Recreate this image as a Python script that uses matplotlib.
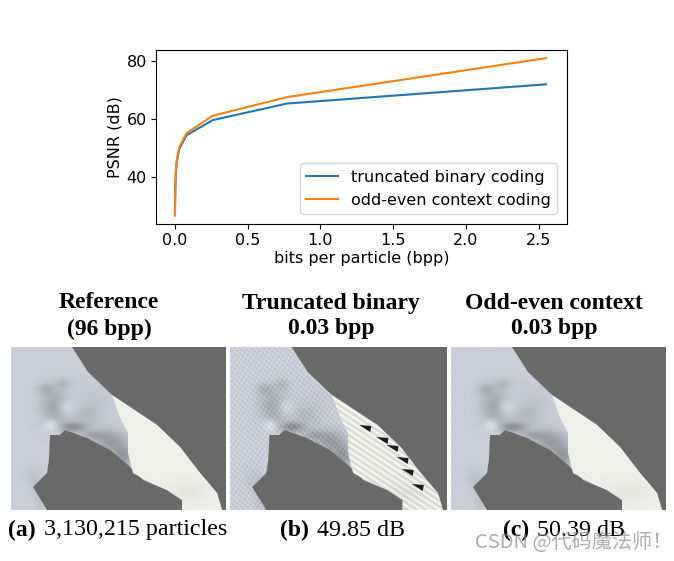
import matplotlib
matplotlib.use('Agg')
import matplotlib.pyplot as plt
import numpy as np
from matplotlib.patches import Polygon

plt.rcParams['font.family'] = ['DejaVu Sans']

W, H = 674, 561

# valores
bpp_binary = [0.0003, 0.001, 0.003, 0.006, 0.012, 0.03, 0.08, 0.26, 0.77, 2.55]
psnr_binary = [27, 30, 36, 41, 45, 49.85, 54.5, 59.7, 65.4, 72]
bpp_context = [0.0003, 0.001, 0.003, 0.006, 0.012, 0.03, 0.08, 0.26, 0.77, 2.55]
psnr_context = [27, 30.5, 36.5, 41.5, 45.5, 50.39, 55.2, 61.2, 67.6, 81]
xticks = [0.0, 0.5, 1.0, 1.5, 2.0, 2.5]
yticks = [40, 60, 80]

panel_titles = ['Reference\n(96 bpp)', 'Truncated binary\n0.03 bpp', 'Odd-even context\n0.03 bpp']
panel_tags = ['(a)', '(b)', '(c)']
panel_captions = ['3,130,215 particles', '49.85 dB', '50.39 dB']

# contornos das ilustracoes, em pixels do painel (215x163)
body_outline = [(0, 0), (61, 0), (77, 25), (101, 48), (146, 78), (169, 100), (189, 126), (206, 146),
                (211, 163), (171, 163), (171, 153), (156, 143), (132, 133), (117, 118), (99, 103),
                (76, 91), (54, 83), (49, 88), (39, 88), (38, 112), (36, 126), (22, 140), (36, 163), (0, 163)]
arm_outline = [(101, 48), (146, 78), (169, 100), (189, 126), (206, 146), (211, 163), (171, 163), (171, 153),
               (156, 143), (140, 136), (122, 126), (117, 106), (117, 86), (109, 70)]
# sombras e relevos: x, y, raio x, raio y, intensidade
shading = [(44, 60, 14, 18, -0.17), (54, 60, 9, 8, 0.12), (40, 78, 7, 6, 0.12), (34, 42, 8, 6, -0.10),
           (52, 36, 8, 5, -0.08), (75, 68, 16, 12, -0.07), (100, 95, 16, 12, -0.20), (112, 110, 10, 10, -0.20),
           (62, 80, 12, 5, -0.24), (82, 88, 12, 5, -0.14), (30, 150, 7, 18, -0.06), (85, 50, 18, 18, -0.03),
           (22, 130, 8, 10, -0.05)]
notches = [(137, 81), (154, 93), (164, 101), (174, 113), (179, 125), (189, 140)]


def px_axes(fig, left, top, right, bottom):
    return fig.add_axes([left / W, 1 - bottom / H, (right - left) / W, (bottom - top) / H])


def draw_panel(ax, kind):
    ax.set_xlim(0, 215)
    ax.set_ylim(163, 0)
    ax.axis('off')
    ax.add_patch(Polygon([(0, 0), (215, 0), (215, 163), (0, 163)], fc='#696969', ec='none', zorder=0))

    x, y = np.meshgrid(np.arange(0, 215, 0.5), np.arange(0, 163, 0.5))
    lum = np.full(x.shape, 0.81)
    for cx, cy, rx, ry, amp in shading:
        lum += amp * np.exp(-((x - cx) / rx) ** 2 - ((y - cy) / ry) ** 2)
    if kind == 'b':
        lum += 0.06 * np.sin(2 * np.pi * (y + 0.15 * x) / 6) * np.sin(2 * np.pi * (x - 0.15 * y) / 5)
    elif kind == 'c':
        lum += 0.04 * np.sin(2 * np.pi * (y + 0.1 * x) / 3.2) * np.sin(2 * np.pi * x / 3.2)
    rgb = np.clip(np.dstack([lum * 0.98, lum, lum * 1.04]), 0, 1)
    im = ax.imshow(rgb, extent=(0, 215, 163, 0), aspect='auto', zorder=1, interpolation='bilinear')
    body = Polygon(body_outline, fc='none', ec='none', transform=ax.transData)
    ax.add_patch(body)
    im.set_clip_path(body)

    # braco claro
    d = (y - 0.66 * x)
    arm_lum = np.full(x.shape, 0.94)
    arm_lum -= 0.04 * np.exp(-((x - 175) / 25) ** 2 - ((y - 145) / 12) ** 2)
    if kind == 'b':
        arm_lum += 0.07 * np.sin(2 * np.pi * d / 6) - 0.03
    elif kind == 'c':
        arm_lum += 0.012 * np.sin(2 * np.pi * d / 5)
        arm_lum += 0.02 * np.sin(2 * np.pi * x / 3) * np.sin(2 * np.pi * y / 3)
    arm_rgb = np.clip(np.dstack([arm_lum, arm_lum, arm_lum * 0.98]), 0, 1)
    arm_im = ax.imshow(arm_rgb, extent=(0, 215, 163, 0), aspect='auto', zorder=2, interpolation='bilinear')
    arm = Polygon(arm_outline, fc='none', ec='none', transform=ax.transData)
    ax.add_patch(arm)
    arm_im.set_clip_path(arm)

    if kind == 'b':
        for nx, ny in notches:
            ax.add_patch(Polygon([(nx - 9, ny - 3), (nx + 3, ny - 2), (nx + 2, ny + 4)],
                                 fc='#1d1d1f', ec='none', zorder=3))
    ax.set_xlim(0, 215)
    ax.set_ylim(163, 0)


fig = plt.figure(figsize=(W / 100, H / 100), dpi=100)

ax = px_axes(fig, 156, 50, 567, 224)
ax.plot(bpp_binary, psnr_binary, color='#1f77b4', lw=1.5, label='truncated binary coding')
ax.plot(bpp_context, psnr_context, color='#ff7f0e', lw=1.5, label='odd-even context coding')
ax.set_xlim(-0.13, 2.695)
ax.set_ylim(24, 83.8)
ax.set_xticks(xticks)
ax.set_yticks(yticks)
ax.tick_params(labelsize=11.5, pad=3)
ax.set_xlabel('bits per particle (bpp)', fontsize=11.5, labelpad=2)
ax.set_ylabel('PSNR (dB)', fontsize=11.5, labelpad=3)
ax.legend(loc='lower right', fontsize=11.5, bbox_to_anchor=(0.9757, 0.057), borderaxespad=0)

serif = 'Liberation Serif'
panels = [(11, 226, 'a'), (230, 447, 'b'), (451, 666, 'c')]
title_x = [109, 331, 554]
caption_x = [8, 280, 503]
for i, (left, right, kind) in enumerate(panels):
    p = px_axes(fig, left, 347, right, 510)
    draw_panel(p, kind)
    fig.text(title_x[i] / W, 1 - 316 / H, panel_titles[i], ha='center', va='center', family=serif,
             weight='bold', fontsize=17, linespacing=1.3)
    tag = fig.text(caption_x[i] / W, 1 - 530 / H, panel_tags[i], ha='left', va='center', family=serif,
                   weight='bold', fontsize=17)
    fig.canvas.draw()
    end = tag.get_window_extent().x1
    fig.text((end + 8) / W, 1 - 530 / H, panel_captions[i], ha='left', va='center', family=serif, fontsize=17.3)

fig.text(475 / W, 1 - 542 / H, 'CSDN @代码魔法师！', ha='left', va='center', color='#8a8a8a', alpha=0.7,
         family=['Noto Sans CJK SC', 'DejaVu Sans'], fontsize=14.5)

fig.savefig('out.png', dpi=100)
